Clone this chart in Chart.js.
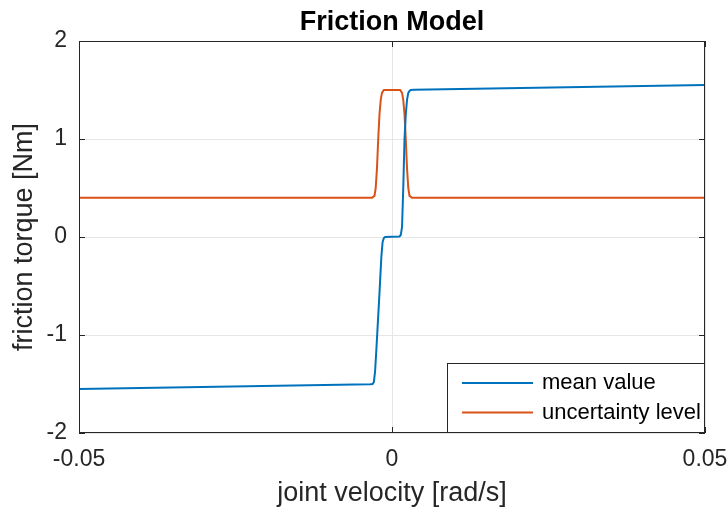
<!DOCTYPE html>
<html>
<head>
<meta charset="utf-8">
<script src="https://cdn.jsdelivr.net/npm/chart.js@4.4.1/dist/chart.umd.min.js"></script>
<style>
  html, body { margin: 0; padding: 0; background: #fff; }
  canvas { display: block; }
</style>
</head>
<body>
<canvas id="myChart" width="728" height="511"></canvas>
<script>
// data
const meanVelocity = [-0.05, -0.0035, -0.0031, -0.0029, -0.0027, -0.0025, -0.0023, -0.0021, -0.0019, -0.0017, -0.0015, -0.0013, -0.0011, 0, 0.0012, 0.0014, 0.0016, 0.0018, 0.002, 0.0022, 0.0024, 0.0026, 0.0028, 0.003, 0.0035, 0.05];
const meanTorque = [-1.55, -1.503, -1.5, -1.48, -1.37, -1.15, -0.92, -0.69, -0.45, -0.2, -0.05, -0.01, 0, 0.003, 0.006, 0.02, 0.1, 0.5, 1.0, 1.25, 1.4, 1.47, 1.49, 1.5, 1.503, 1.55];

const uncVelocity = [-0.05, -0.0032, -0.0028, -0.0026, -0.0024, -0.0022, -0.002, -0.0018, -0.0016, -0.0013, 0.0013, 0.0016, 0.0018, 0.002, 0.0022, 0.0024, 0.0026, 0.0028, 0.0032, 0.05];
const uncLevel = [0.4, 0.4, 0.42, 0.5, 0.7, 1.0, 1.25, 1.4, 1.47, 1.5, 1.5, 1.47, 1.4, 1.25, 1.0, 0.7, 0.5, 0.42, 0.4, 0.4];

const seriesNames = ["mean value", "uncertainty level"];
const seriesColors = ["#0072BD", "#D95319"];
const xTicks = [-0.05, 0, 0.05];
const yTicks = [-2, -1, 0, 1, 2];

const FONT = "'Liberation Sans', Arial, Helvetica, sans-serif";
const AXIS = "#262626";

function toPoints(xs, ys) {
  return xs.map((x, i) => ({ x: x, y: ys[i] }));
}

// box, inward ticks and legend like matlab
const matlabAxes = {
  id: "matlabAxes",
  afterDraw(chart) {
    const ctx = chart.ctx;
    const a = chart.chartArea;
    const xs = chart.scales.x;
    const ys = chart.scales.y;
    ctx.save();
    ctx.strokeStyle = AXIS;
    ctx.lineWidth = 1;
    ctx.strokeRect(a.left + 0.5, a.top + 0.5, a.right - a.left - 1, a.bottom - a.top - 1);
    ctx.beginPath();
    const tl = 6;
    xTicks.forEach(v => {
      const p = Math.round(xs.getPixelForValue(v)) + 0.5;
      ctx.moveTo(p, a.bottom); ctx.lineTo(p, a.bottom - tl);
      ctx.moveTo(p, a.top); ctx.lineTo(p, a.top + tl);
    });
    yTicks.forEach(v => {
      const p = Math.round(ys.getPixelForValue(v)) + 0.5;
      ctx.moveTo(a.left, p); ctx.lineTo(a.left + tl, p);
      ctx.moveTo(a.right, p); ctx.lineTo(a.right - tl, p);
    });
    ctx.stroke();

    // legend, southeast
    const lx = 447, ly = 363, lw = 257, lh = 69;
    ctx.fillStyle = "#fff";
    ctx.fillRect(lx, ly, lw, lh);
    ctx.strokeRect(lx + 0.5, ly + 0.5, lw, lh);
    ctx.font = "22px " + FONT;
    ctx.textBaseline = "middle";
    ctx.textAlign = "left";
    chart.data.datasets.forEach((ds, i) => {
      const y = 383 + i * 29.5;
      ctx.strokeStyle = ds.borderColor;
      ctx.lineWidth = 2;
      ctx.beginPath();
      ctx.moveTo(462, y); ctx.lineTo(533, y);
      ctx.stroke();
      ctx.fillStyle = "#000";
      ctx.fillText(ds.label, 542, y);
    });
    ctx.restore();
  }
};

const ctx = document.getElementById("myChart").getContext("2d");
new Chart(ctx, {
  type: "line",
  data: {
    datasets: [
      {
        label: seriesNames[0],
        data: toPoints(meanVelocity, meanTorque),
        borderColor: seriesColors[0],
        borderWidth: 2,
        pointRadius: 0,
        tension: 0
      },
      {
        label: seriesNames[1],
        data: toPoints(uncVelocity, uncLevel),
        borderColor: seriesColors[1],
        borderWidth: 2,
        pointRadius: 0,
        tension: 0
      }
    ]
  },
  options: {
    responsive: false,
    animation: false,
    layout: { padding: { left: 0, right: 23, top: 0, bottom: 0 } },
    plugins: {
      legend: { display: false },
      tooltip: { enabled: false },
      title: {
        display: true,
        fullSize: false,
        text: "Friction Model",
        color: "#000",
        font: { family: FONT, size: 27, weight: "bold", lineHeight: 1.2 },
        padding: { top: 6, bottom: 2.6 }
      }
    },
    scales: {
      x: {
        type: "linear",
        min: -0.05,
        max: 0.05,
        afterFit(scale) {
          scale.height = 78;
          scale.paddingLeft = 0;
          scale.paddingRight = 0;
        },
        afterBuildTicks(scale) { scale.ticks = xTicks.map(v => ({ value: v })); },
        ticks: {
          color: AXIS,
          padding: 13,
          maxRotation: 0,
          font: { family: FONT, size: 23 },
          callback: v => String(v)
        },
        grid: { color: "#e6e6e6", drawTicks: false },
        border: { display: false },
        title: {
          display: true,
          text: "joint velocity [rad/s]",
          color: AXIS,
          font: { family: FONT, size: 27, lineHeight: 1.2 },
          padding: { top: 0, bottom: 1 }
        }
      },
      y: {
        type: "linear",
        min: -2,
        max: 2,
        afterFit(scale) {
          scale.width = 79;
          scale.paddingTop = 0;
          scale.paddingBottom = 0;
        },
        afterBuildTicks(scale) { scale.ticks = yTicks.map(v => ({ value: v })); },
        ticks: {
          color: AXIS,
          padding: 12,
          font: { family: FONT, size: 23 },
          callback: v => String(v)
        },
        grid: { color: "#e6e6e6", drawTicks: false },
        border: { display: false },
        title: {
          display: true,
          text: "friction torque [Nm]",
          color: AXIS,
          font: { family: FONT, size: 27, lineHeight: 1.2 },
          padding: { top: 8, bottom: 0 }
        }
      }
    }
  },
  plugins: [matlabAxes]
});
</script>
</body>
</html>
